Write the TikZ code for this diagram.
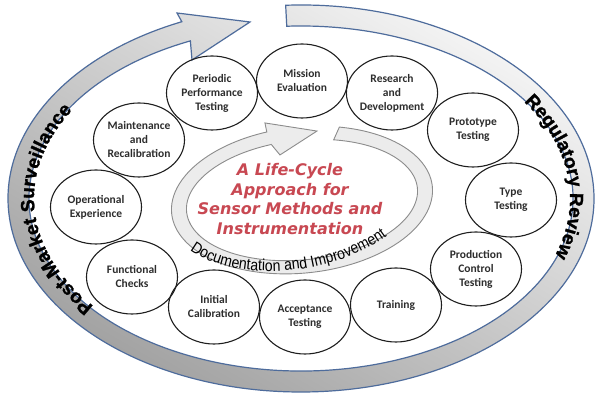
\documentclass[tikz,border=0pt]{standalone}
\usepackage{fontspec}
\usetikzlibrary{calc,decorations.text,shapes.geometric}
\newfontfamily\carl{Carlito}
\newfontfamily\lsansbold[FakeBold=1.3]{Liberation Sans Bold}
\newfontfamily\lsnarrow[FakeStretch=0.88]{Liberation Sans}
\newfontfamily\djv{DejaVu Sans}[BoldFont={DejaVu Sans Bold},ItalicFont={DejaVu Sans Oblique},BoldItalicFont={DejaVu Sans Bold Oblique}]
\newcommand\bandtxt{\lsansbold\fontsize{19pt}{19pt}\selectfont}
\newcommand\doctxt{\lsnarrow\fontsize{16pt}{16pt}\selectfont}
\definecolor{bandline}{RGB}{78,108,156}
\definecolor{bandlight}{RGB}{246,246,246}
\definecolor{banddark}{RGB}{160,160,160}
\definecolor{lcred}{RGB}{200,72,82}
\definecolor{innerfill}{RGB}{236,236,236}
\definecolor{innerline}{RGB}{140,140,140}
\definecolor{txtgray}{RGB}{45,45,45}
\begin{document}
\begin{tikzpicture}[x=1pt,y=1pt,
  stage/.style={draw=black!88, line width=1.1pt, ellipse, minimum width=91pt, minimum height=74pt, inner sep=0pt, align=center, text=txtgray, font=\carl\bfseries\fontsize{11.5pt}{14pt}\selectfont},
  outerband/.style={draw=bandline, line width=1.2pt, top color=bandlight, bottom color=banddark, shading angle=-30},
  innerband/.style={draw=innerline, line width=0.9pt, fill=innerfill},
  titletext/.style={text=lcred, align=center, font=\djv\bfseries\itshape\fontsize{16pt}{19.5pt}\selectfont}]
\useasboundingbox (0,0) rectangle (600,403);
\fill[white] (0,0) rectangle (600,403);
% outer life-cycle arrow
\coordinate (C) at (301,204.5);
\coordinate (hu) at (177,{403-13});
\coordinate (ht) at (250,{403-22});
\coordinate (hl) at (192,{403-60});
\path[outerband] ($(C)+(93:293pt and 193.5pt)$)
  arc[start angle=93, end angle=-246, x radius=293pt, y radius=193.5pt]
  -- (hu) -- (ht) -- (hl)
  -- ($(C)+(-246:272pt and 172.5pt)$)
  arc[start angle=-246, end angle=93, x radius=272pt, y radius=172.5pt] -- cycle;
% texts on the outer arrow
\path[decorate, decoration={text along path, text={|\bandtxt|Post-Market Surveillance}, text align=left}]
  ($(C)+(219:267pt and 171pt)$) arc[start angle=219, end angle=120, x radius=267pt, y radius=171pt];
\path[decorate, decoration={text along path, text={|\bandtxt|Regulatory Review}, text align=left}]
  ($(C)+(34:269pt and 173pt)$) arc[start angle=34, end angle=-40, x radius=269pt, y radius=173pt];
% inner improvement arrow
\begin{scope}[shift={(302,203)}, rotate=6]
  \coordinate (iu) at (-28.8,80.5);
  \coordinate (it) at (22.1,67.0);
  \coordinate (il) at (-17.2,47.1);
  \path[innerband] (70:131pt and 73pt)
    arc[start angle=70, end angle=-257.7, x radius=131pt, y radius=73pt]
    -- (iu) -- (it) -- (il)
    -- (-257.7:116pt and 59.8pt)
    arc[start angle=-257.7, end angle=71, x radius=116pt, y radius=59.8pt] -- cycle;
\end{scope}
\begin{scope}[shift={(293.6,201.8)}, rotate=9]
  \path[decorate, decoration={text along path, text={|\doctxt|Documentation and Improvement}, text align=left}]
    (208:124.5pt and 68pt) arc[start angle=208, end angle=350, x radius=124.5pt, y radius=68pt];
\end{scope}
\node[titletext] (title) at (290,{403-199}) {A Life-Cycle\\Approach for\\Sensor Methods and\\Instrumentation};
% stages
\node[stage] (ppt) at (212,{403-93}) {Periodic\\Performance\\Testing};
\node[stage] (me) at (302,{403-81}) {Mission\\Evaluation};
\node[stage] (rd) at (392,{403-93}) {Research\\and\\Development};
\node[stage] (pt) at (473,{403-130}) {Prototype\\Testing};
\node[stage] (tt) at (511,{403-200}) {Type\\Testing};
\node[stage] (pct) at (476,{403-269}) {Production\\Control\\Testing};
\node[stage] (tr) at (396,{403-305}) {Training};
\node[stage] (at) at (305,{403-317}) {Acceptance\\Testing};
\node[stage] (ic) at (214,{403-307}) {Initial\\Calibration};
\node[stage] (fc) at (132,{403-277}) {Functional\\Checks};
\node[stage] (oe) at (96,{403-207}) {Operational\\Experience};
\node[stage] (mr) at (139,{403-140}) {Maintenance\\and\\Recalibration};
\end{tikzpicture}
\end{document}
